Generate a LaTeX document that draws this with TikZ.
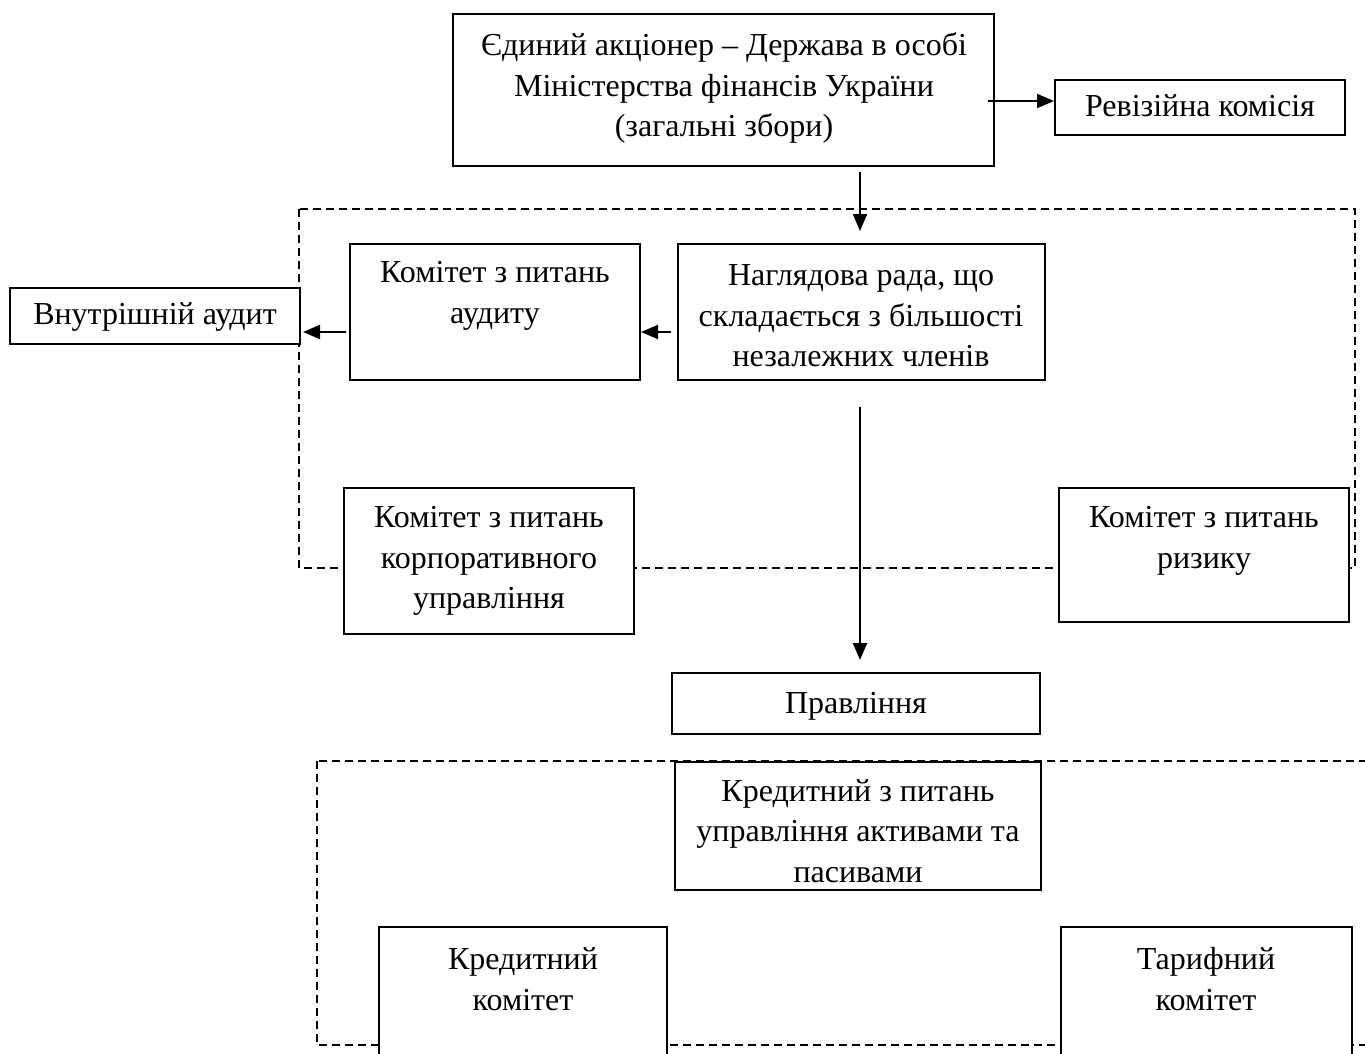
\documentclass[tikz,border=0pt]{standalone}
\usepackage{fontspec}
\setmainfont{Liberation Serif}
\usetikzlibrary{arrows.meta}
\begin{document}
\begin{tikzpicture}[x=1pt,y=-1pt,
  box/.style={draw=black,line width=2pt,fill=white,inner sep=0pt},
  txt/.style={align=center,inner sep=0pt,font=\fontsize{32}{40.5}\selectfont},
  arr/.style={line width=2pt,-{Triangle[length=17pt,width=14pt]}},
  zone/.style={line width=2pt,dash pattern=on 8pt off 5pt}]
\useasboundingbox (0,0) rectangle (1365,1053);
\clip (0,0) rectangle (1365,1053);

% dashed frames of the supervisory board and of the management committees
\draw[zone] (299,209) rectangle (1355,568);
\draw[zone] (317,761) rectangle (1390,1045);

% boxes
\node[box,minimum width=541pt,minimum height=152pt] (top) at (723.5,90) {};
\node[box,minimum width=290pt,minimum height=55pt] (rev) at (1200,107.5) {};
\node[box,minimum width=367pt,minimum height=136pt] (nab) at (861.5,312) {};
\node[box,minimum width=290pt,minimum height=136pt] (aud) at (495,312) {};
\node[box,minimum width=290pt,minimum height=56pt] (int) at (155,316) {};
\node[box,minimum width=290pt,minimum height=146pt] (corp) at (489,561) {};
\node[box,minimum width=290pt,minimum height=134pt] (risk) at (1204,555) {};
\node[box,minimum width=368pt,minimum height=61pt] (prav) at (856,703.5) {};
\node[box,minimum width=366pt,minimum height=128pt] (alm) at (858,826) {};
\node[box,minimum width=288pt,minimum height=142pt] (cred) at (523,998) {};
\node[box,minimum width=291pt,minimum height=142pt] (tar) at (1206.5,998) {};

% texts
\node[txt] (ttop) at (724,88) {Єдиний акціонер – Держава в особі\\Міністерства фінансів України\\(загальні збори)};
\node[txt] (trev) at (1200,106) {Ревізійна комісія};
\node[txt] (tnab) at (861,316) {Наглядова рада, що\\складається з більшості\\незалежних членів};
\node[txt] (taud) at (495,296) {Комітет з питань\\аудиту};
\node[txt] (tint) at (155,317) {Внутрішній аудит};
\node[txt] (tcorp) at (489,561) {Комітет з питань\\корпоративного\\управління};
\node[txt] (trisk) at (1204,541) {Комітет з питань\\ризику};
\node[txt] (tprav) at (856,706) {Правління};
\node[txt] (talm) at (858,831) {Кредитний з питань\\управління активами та\\пасивами};
\node[txt] (tcred) at (523,979) {Кредитний\\комітет};
\node[txt] (ttar) at (1206,979) {Тарифний\\комітет};

% connectors
\coordinate (d1) at (860,172);
\coordinate (d2) at (860,231);
\draw[arr] ([shift={(-7,11)}]top.east) coordinate (r1) -- (r1 -| rev.west);
\draw[arr] (d1) -- (d2);
\draw[arr] ([shift={(-6,20)}]nab.west) coordinate (l1) -- (l1 -| aud.east);
\draw[arr] ([shift={(-3,20)}]aud.west) coordinate (l2) -- ([xshift=2pt]l2 -| int.east);
\draw[arr] ([shift={(-1.5,26)}]nab.south) -- ([shift={(4,-12)}]prav.north);
\end{tikzpicture}
\end{document}
